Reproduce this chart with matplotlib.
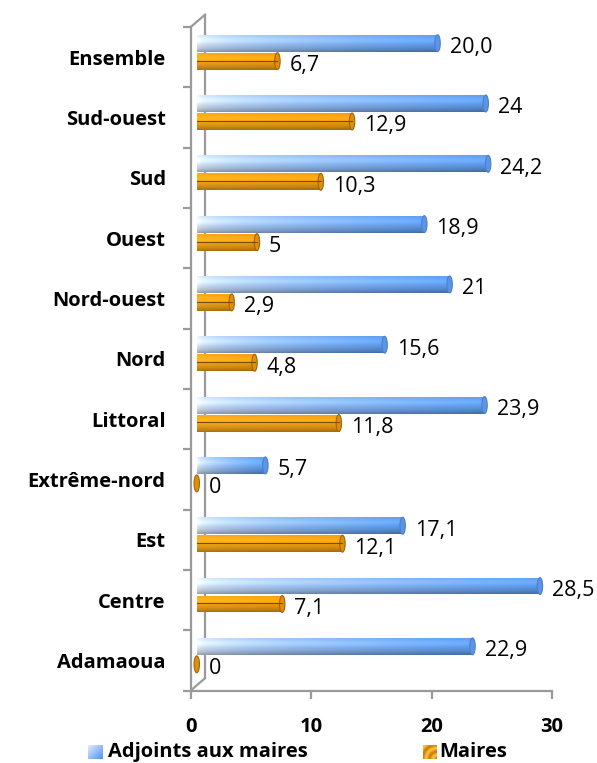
import numpy as np
import matplotlib
matplotlib.use('Agg')
import matplotlib.pyplot as plt
from matplotlib.patches import Ellipse, Rectangle
from matplotlib.transforms import ScaledTranslation

# données
regions = ['Adamaoua', 'Centre', 'Est', 'Extrême-nord', 'Littoral', 'Nord',
           'Nord-ouest', 'Ouest', 'Sud', 'Sud-ouest', 'Ensemble']
adjoints = [22.9, 28.5, 17.1, 5.7, 23.9, 15.6, 21, 18.9, 24.2, 24, 20.0]
maires = [0, 7.1, 12.1, 0, 11.8, 4.8, 2.9, 5, 10.3, 12.9, 6.7]
adjoints_txt = ['22,9', '28,5', '17,1', '5,7', '23,9', '15,6', '21', '18,9', '24,2', '24', '20,0']
maires_txt = ['0', '7,1', '12,1', '0', '11,8', '4,8', '2,9', '5', '10,3', '12,9', '6,7']
xticks = [0, 10, 20, 30]

FONT = 'Open Sans'
GRAY = '#9a9a9a'


def cylinder_img(left, right, power, n=80, m=24):
    # dégradé horizontal + ombrage vertical façon cylindre
    left = np.array(left)
    right = np.array(right)
    t = np.linspace(0, 1, n) ** power
    row = left[None, :] * (1 - t[:, None]) + right[None, :] * t[:, None]
    v = np.linspace(0, 1, m)
    shade = 1.0 + 0.10 * np.exp(-((v - 0.3) / 0.18) ** 2) - 0.32 * v ** 3
    img = row[None, :, :] * shade[:, None, None]
    return np.clip(img, 0, 1)


blue_img = cylinder_img((0.90, 0.94, 0.99), (0.38, 0.62, 0.94), 0.55)
orange_img = cylinder_img((0.97, 0.66, 0.10), (0.95, 0.62, 0.06), 1.0)

fig = plt.figure(figsize=(5.97, 7.63), dpi=100)
ax = fig.add_axes([0.3195, 0.095, 0.6051, 0.8696])

trans = ax.transData + ScaledTranslation(0.06, 0, fig.dpi_scale_trans)
back = ax.transData + ScaledTranslation(0.145, 0.125, fig.dpi_scale_trans)

h = 0.28


def cyl_bar(y, w, img, cap_face, cap_edge):
    if w > 0:
        rect = Rectangle((0, y - h / 2), w, h, transform=trans,
                         facecolor='none', edgecolor='none')
        ax.add_patch(rect)
        im = ax.imshow(img, extent=(0, w, y - h / 2, y + h / 2), aspect='auto',
                       transform=trans, interpolation='bilinear', zorder=2)
        im.set_clip_path(rect)
    cap = Ellipse((w, y), 0.45, h, transform=trans, facecolor=cap_face,
                  edgecolor=cap_edge, lw=0.8, zorder=3)
    ax.add_patch(cap)


for i in range(len(regions)):
    yb = i + 0.232
    yo = i - 0.066
    cyl_bar(yb, adjoints[i], blue_img, (0.36, 0.58, 0.90), (0.30, 0.50, 0.80))
    cyl_bar(yo, maires[i], orange_img, (0.88, 0.56, 0.05), (0.62, 0.40, 0.02))
    if maires[i] > 0:
        ax.plot([0, maires[i]], [yo + 0.01, yo + 0.01], transform=trans,
                color='#7a4a00', lw=0.8, zorder=3)
    ax.annotate(adjoints_txt[i], (adjoints[i], yb), xytext=(13, -3.2),
                textcoords='offset points', ha='left', va='center',
                fontsize=15.5, family=FONT, color='black')
    ax.annotate(maires_txt[i], (maires[i], yo), xytext=(13, -3.2),
                textcoords='offset points', ha='left', va='center',
                fontsize=15.5, family=FONT, color='black')

ax.set_xlim(0, 30)
ax.set_ylim(-0.5, len(regions) - 0.5)

# paroi arrière (effet 3D)
ax.plot([0, 0], [-0.5, len(regions) - 0.5], transform=back, color=GRAY,
        lw=1.6, clip_on=False, zorder=1)
for yy in (-0.5, len(regions) - 0.5):
    ax.annotate('', xy=(0, yy), xycoords=back, xytext=(0, yy), textcoords='data',
                arrowprops=dict(arrowstyle='-', color=GRAY, lw=1.6,
                                shrinkA=0, shrinkB=0))

for s in ('top', 'right'):
    ax.spines[s].set_visible(False)
for s in ('left', 'bottom'):
    ax.spines[s].set_color(GRAY)
    ax.spines[s].set_linewidth(1.6)

ax.set_xticks(xticks)
ax.set_xticklabels([str(x) for x in xticks], fontsize=14.5, fontweight='bold', family=FONT)
ax.tick_params(axis='x', length=6, width=1.6, color=GRAY, pad=13)

ax.set_yticks(range(len(regions)))
ax.set_yticklabels(regions, fontsize=14.5, fontweight='bold', family=FONT)
ax.set_yticks(np.arange(-0.5, len(regions), 1), minor=True)
ax.tick_params(axis='y', which='major', length=0, pad=18)
ax.tick_params(axis='y', which='minor', length=5.5, width=1.6, color=GRAY)

# légende
leg_blue = fig.add_axes([88 / 597, 4 / 763, 14 / 597, 14 / 763])
tt = np.linspace(0, 1, 20)
sq = np.clip(0.5 * (tt[None, :] + tt[:, None]), 0, 1)
c0 = np.array((0.90, 0.92, 0.99))
c1 = np.array((0.30, 0.58, 0.95))
leg_blue.imshow(c0 * (1 - sq[..., None]) + c1 * sq[..., None], aspect='auto')
leg_blue.axis('off')
fig.text(108 / 597, 1 - 757 / 763, 'Adjoints aux maires', fontsize=14.5,
         fontweight='bold', family=FONT, va='baseline', ha='left')

leg_or = fig.add_axes([423 / 597, 4 / 763, 14 / 597, 14 / 763])
c0 = np.array((0.98, 0.75, 0.25))
c1 = np.array((0.80, 0.50, 0.02))
rr = np.sqrt((1 - tt[None, :]) ** 2 + (1 - tt[:, None]) ** 2)
ring = 0.5 + 0.5 * np.cos(rr * 12)
leg_or.imshow(c0 * (1 - ring[..., None]) + c1 * ring[..., None], aspect='auto')
leg_or.axis('off')
fig.text(439 / 597, 1 - 757 / 763, 'Maires', fontsize=14.5,
         fontweight='bold', family=FONT, va='baseline', ha='left')

fig.savefig('out.png', dpi=100)
